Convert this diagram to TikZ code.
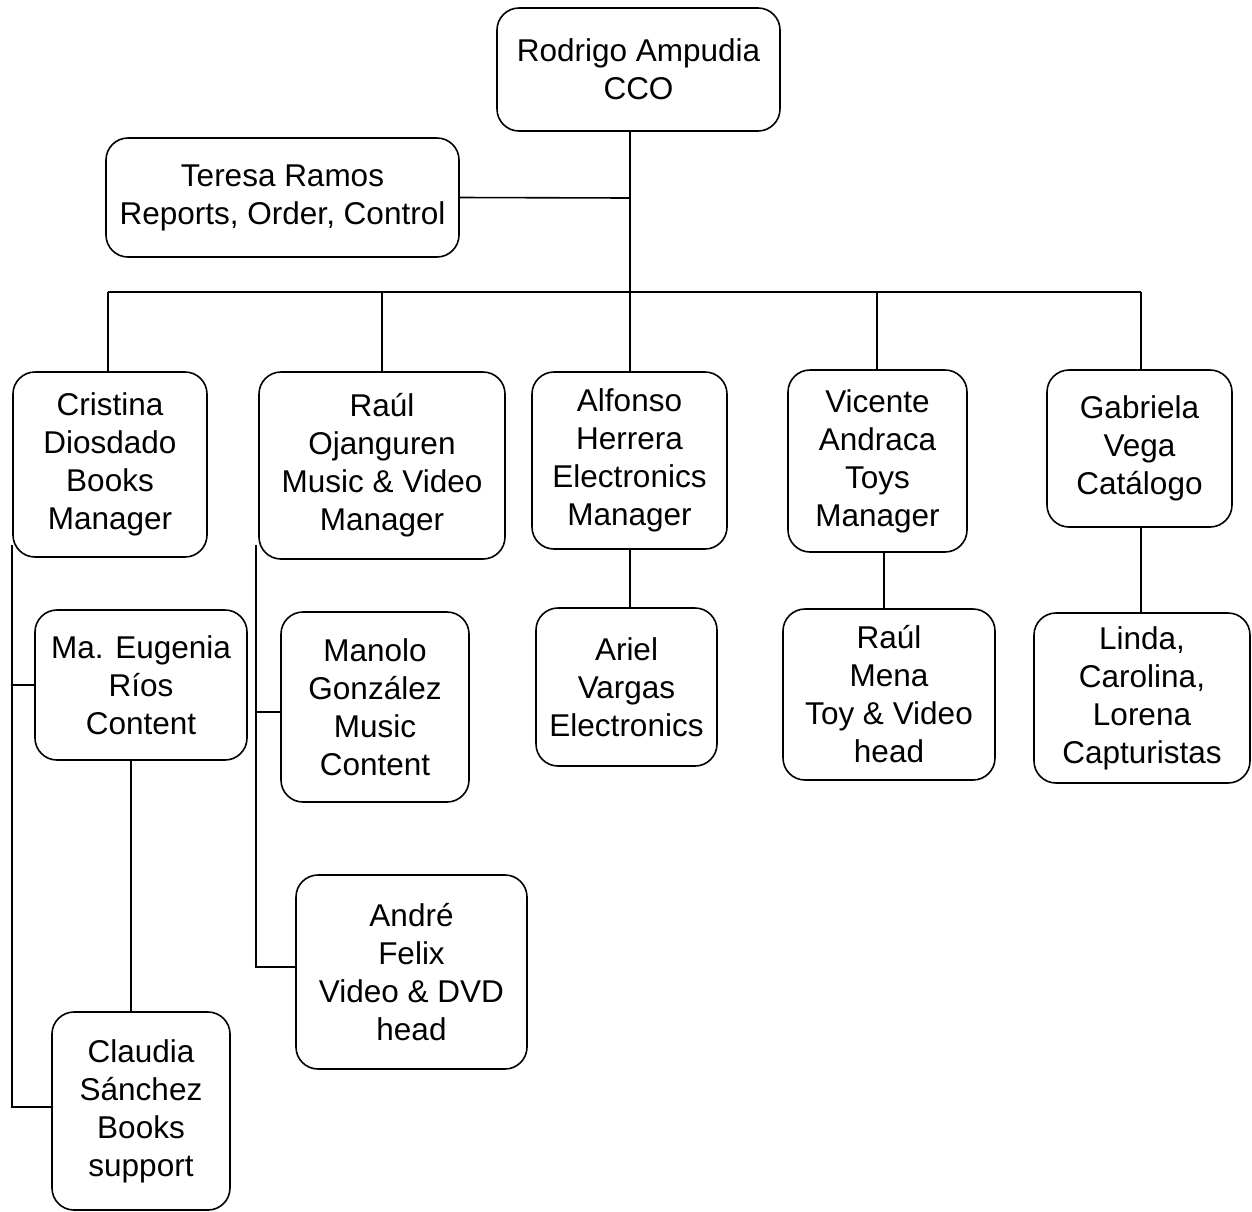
\documentclass[tikz,border=0pt]{standalone}
\usepackage{fontspec}
\setmainfont{Liberation Sans}
\begin{document}
\begin{tikzpicture}[x=1pt,y=-1pt,
  line width=1.6pt,
  box/.style={draw, rounded corners=22pt, align=center, inner sep=0pt,
    font=\fontsize{31.5}{38}\selectfont},
  link/.style={line width=1.6pt}]
\useasboundingbox (0,0) rectangle (1252,1211);

% boxes: centre, width, height
\node[box, minimum width=283pt, minimum height=123pt] (rod)   at (638.5,69.5)  {Rodrigo Ampudia\\CCO};
\node[box, minimum width=353pt, minimum height=119pt] (ter)   at (282.5,197.5) {Teresa Ramos\\Reports, Order, Control};
\node[box, minimum width=194pt, minimum height=185pt] (cri)   at (110,464.5)   {Cristina\\Diosdado\\Books\\Manager};
\node[box, minimum width=246pt, minimum height=187pt] (rau)   at (382,465.5)   {Raúl\\Ojanguren\\Music \& Video\\Manager};
\node[box, minimum width=195pt, minimum height=177pt] (alf)   at (629.5,460.5) {Alfonso\\Herrera\\Electronics\\Manager};
\node[box, minimum width=179pt, minimum height=182pt] (vic)   at (877.5,461)   {Vicente\\Andraca\\Toys\\Manager};
\node[box, minimum width=185pt, minimum height=157pt] (gab)   at (1139.5,448.5){Gabriela\\Vega\\Catálogo};
\node[box, minimum width=212pt, minimum height=150pt] (eug)   at (141,685)     {Ma. Eugenia\\Ríos\\Content};
\node[box, minimum width=178pt, minimum height=198pt] (cla)   at (141,1111)    {Claudia\\Sánchez\\Books\\support};
\node[box, minimum width=188pt, minimum height=190pt] (man)   at (375,707)     {Manolo\\González\\Music\\Content};
\node[box, minimum width=231pt, minimum height=194pt] (andre) at (411.5,972)   {André\\Felix\\Video \& DVD\\head};
\node[box, minimum width=181pt, minimum height=158pt] (ari)   at (626.5,687)   {Ariel\\Vargas\\Electronics};
\node[box, minimum width=212pt, minimum height=171pt] (mena)  at (889,694.5)   {Raúl\\Mena\\Toy \& Video\\head};
\node[box, minimum width=216pt, minimum height=170pt] (lin)   at (1142,698)    {Linda,\\Carolina,\\Lorena\\Capturistas};

% bus and junction points
\coordinate (b1) at (108,292);
\coordinate (b2) at (382,292);
\coordinate (b3) at (630,292);
\coordinate (b4) at (877,292);
\coordinate (b5) at (1141,292);
\coordinate (tj) at (630,198);
\coordinate (vx) at (884,0);
\coordinate (lx) at (12,545);
\coordinate (lend) at (12,1107);
\coordinate (rx) at (256,545);
\coordinate (rend) at (256,967);
\coordinate (ex) at (131,0);

% top level
\draw[link] (rod.south -| b3) -- (b3);
\draw[link] (ter.east) -- (tj);
\draw[link] (b1) -- (b5);
\draw[link] (b1) -- (b1 |- cri.north);
\draw[link] (b2) -- (b2 |- rau.north);
\draw[link] (b3) -- (b3 |- alf.north);
\draw[link] (b4) -- (b4 |- vic.north);
\draw[link] (b5) -- (b5 |- gab.north);

% second level
\draw[link] (alf.south -| b3) -- (ari.north -| b3);
\draw[link] (vic.south -| vx) -- (mena.north -| vx);
\draw[link] (gab.south -| b5) -- (lin.north -| b5);
\draw[link] (eug.south -| ex) -- (cla.north -| ex);

% books branch
\draw[link] (lx) -- (lend) -- (lend -| cla.west);
\draw[link] (lx |- eug.west) -- (eug.west);

% music branch
\draw[link] (rx) -- (rend) -- (rend -| andre.west);
\draw[link] (256,712) -- (man.west |- 0,712);
\end{tikzpicture}
\end{document}
